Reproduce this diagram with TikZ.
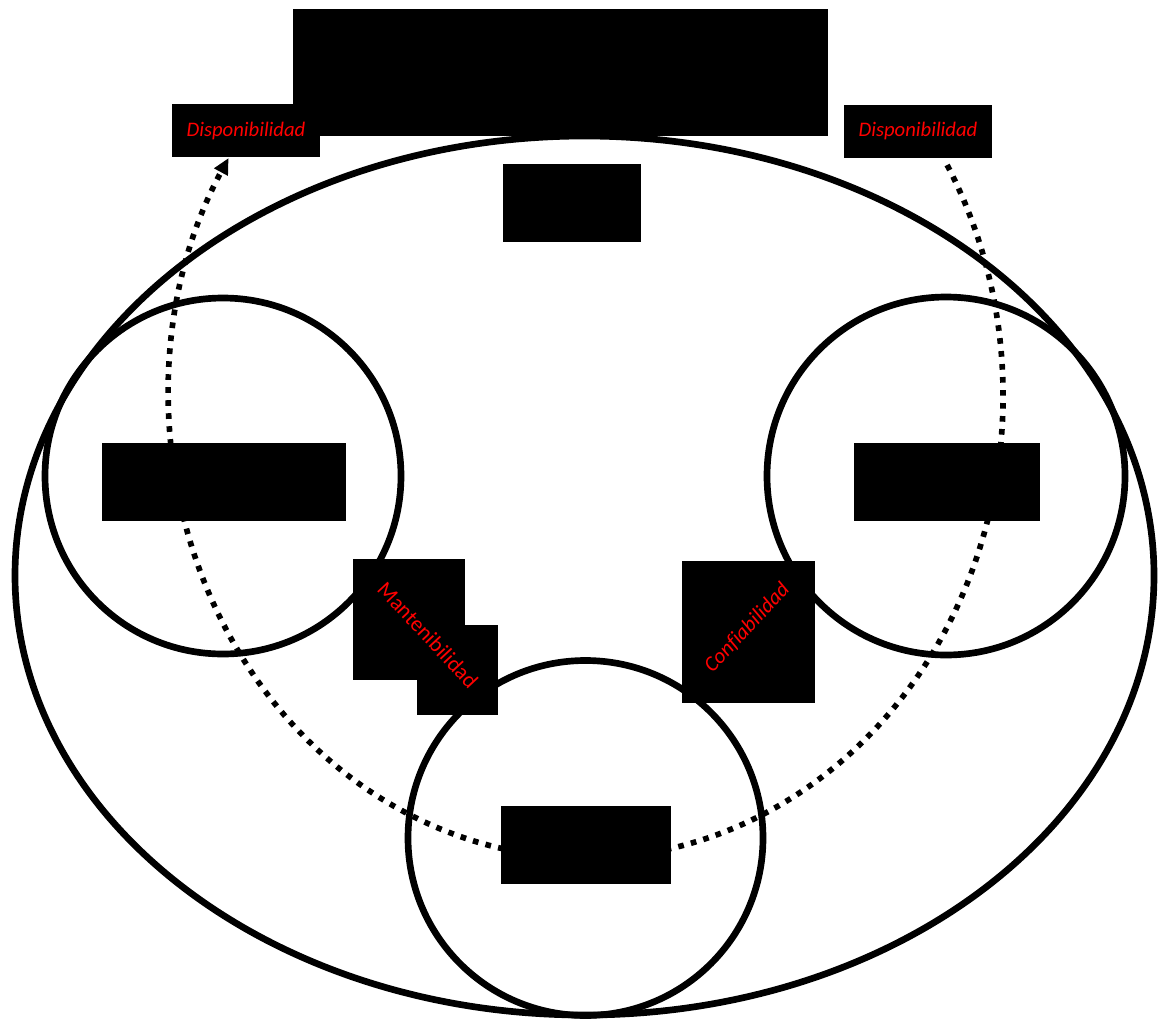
\documentclass[tikz,border=0pt]{standalone}
\usepackage{fontspec}
\setmainfont{Carlito}[Ligatures=NoCommon]
\usetikzlibrary{arrows.meta,shapes.geometric}

\begin{document}
\begin{tikzpicture}[x=0.75pt,y=-0.75pt,
  ring/.style={draw=black,line width=5pt,fill=none,inner sep=0pt},
  blackbox/.style={rectangle,fill=black,draw=none,inner sep=0pt},
  redlabel/.style={text=red,font=\fontsize{15.5}{18}\selectfont\itshape,inner sep=0pt},
  dotline/.style={draw=black,line width=4.25pt,dash pattern=on 4.25pt off 5.5pt}]
\useasboundingbox (0,0) rectangle (1163,1021);
% outer ellipse and the three circles
\node[ring,ellipse,minimum width=854.25pt,minimum height=659.25pt] (outer) at (584.5,575.5) {};
\node[ring,circle,minimum size=267pt] (leftcirc) at (223,476) {};
\node[ring,circle,minimum size=268.5pt] (rightcirc) at (946,476) {};
\node[ring,circle,minimum size=266.25pt] (bottomcirc) at (585.5,838) {};
% dotted loop, from the right label round to the left one
\coordinate (loopc) at (586,396);
\draw[dotline,-{Triangle[length=12pt,width=11pt]}] (loopc) ++(-30:417 and 462) arc[start angle=-30,end angle=211,x radius=417,y radius=462];
% black boxes
\node[blackbox,minimum width=401.25pt,minimum height=95.25pt] (topbox) at (560.5,72.5) {};
\node[blackbox,minimum width=103.5pt,minimum height=58.5pt] (midbox) at (572,203) {};
\node[blackbox,minimum width=183pt,minimum height=58.5pt] (leftbox) at (224,482) {};
\node[blackbox,minimum width=139.5pt,minimum height=58.5pt] (rightbox) at (947,482) {};
\node[blackbox,minimum width=127.5pt,minimum height=58.5pt] (bottombox) at (586,845) {};
\node[blackbox,minimum width=84pt,minimum height=90.75pt] (mantA) at (409,619.5) {};
\node[blackbox,minimum width=60.75pt,minimum height=67.5pt] (mantB) at (457.5,670) {};
\node[blackbox,minimum width=99.75pt,minimum height=106.5pt] (confbox) at (748.5,632) {};
% red labels
\node[blackbox,redlabel,minimum width=111pt,minimum height=39.75pt] (dispL) at (246,130.5) {Disponibilidad};
\node[blackbox,redlabel,minimum width=111pt,minimum height=39.75pt] (dispR) at (918,131) {Disponibilidad};
\node[redlabel,font=\fontsize{16.5}{19}\selectfont,rotate=-47] (mant) at (428,635) {Mantenibilidad};
\node[redlabel,font=\fontsize{16}{19}\selectfont\itshape,rotate=47] (conf) at (747,628) {Confiabilidad};
\end{tikzpicture}
\end{document}
